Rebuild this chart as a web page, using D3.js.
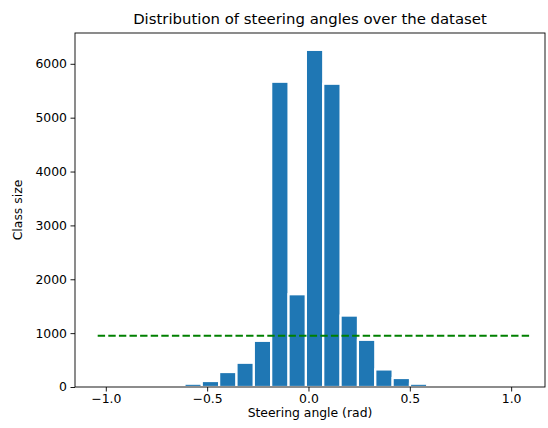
<!DOCTYPE html>
<html>
<head>
<meta charset="utf-8">
<script src="https://cdn.jsdelivr.net/npm/d3@7"></script>
<style>
  body { margin: 0; background: #fff; }
  svg text { font-family: "DejaVu Sans", sans-serif; fill: #000; }
</style>
</head>
<body>
<div id="chart"></div>
<script>
// histogram of steering angles: 25 equal bins between min and max angle
let angleMin = -1.04;
let angleMax = 1.10;
let counts = [1, 0, 0, 0, 0, 61, 111, 278, 450, 857, 5667, 1722, 6259, 5630, 1326,
              876, 326, 167, 61, 24, 0, 0, 0, 0, 1];
let xTicks = [-1.0, -0.5, 0.0, 0.5, 1.0];
let yTicks = [0, 1000, 2000, 3000, 4000, 5000, 6000];

let width = 548, height = 428;
let plot = { left: 75, right: 545, top: 33, bottom: 387 }; //px

let svg = d3.select("#chart")
    .append("svg")
    .attr("width", width)
    .attr("height", height);

let binWidth = (angleMax - angleMin) / counts.length;
let bins = counts.map((c, i) => ({
    x0: angleMin + i * binWidth,
    x1: angleMin + (i + 1) * binWidth,
    count: c
}));
let meanCount = d3.mean(counts);

// matplotlib style 5% margins
let xPad = (angleMax - angleMin) * 0.05;
let xScale = d3.scaleLinear()
    .domain([angleMin - xPad - 0.005, angleMax + xPad - 0.04])
    .range([plot.left, plot.right]);

let yScale = d3.scaleLinear()
    .domain([0, d3.max(counts) * 1.05])
    .range([plot.bottom, plot.top]);

// bars
svg.append("g")
    .selectAll("rect")
    .data(bins.filter(b => b.count > 0))
    .enter()
    .append("rect")
    .attr("x", d => xScale(d.x0))
    .attr("y", d => yScale(d.count))
    .attr("width", d => xScale(d.x1) - xScale(d.x0))
    .attr("height", d => yScale(0) - yScale(d.count))
    .attr("fill", "#1f77b4")
    .attr("stroke", "#fff")
    .attr("stroke-width", 2.2);

// mean line
svg.append("line")
    .attr("x1", xScale(angleMin))
    .attr("x2", xScale(angleMax))
    .attr("y1", yScale(meanCount))
    .attr("y2", yScale(meanCount))
    .attr("stroke", "#008000")
    .attr("stroke-width", 2)
    .attr("stroke-dasharray", "7.4,3.2");

/*---------------
 // axes
 ----------------*/
let xAxis = d3.axisBottom(xScale)
    .tickValues(xTicks)
    .tickFormat(d3.format(".1f"))
    .tickSize(4.5)
    .tickPadding(3);

let xg = svg.append("g")
    .attr("transform", "translate(0," + plot.bottom + ")")
    .call(xAxis);

let yAxis = d3.axisLeft(yScale)
    .tickValues(yTicks)
    .tickFormat(d3.format("d"))
    .tickSize(4.5)
    .tickPadding(3.5);

let yg = svg.append("g")
    .attr("transform", "translate(" + plot.left + ",0)")
    .call(yAxis);

[xg, yg].forEach(g => {
    g.select(".domain").remove();
    g.selectAll(".tick line").attr("stroke", "#000").attr("stroke-width", 0.9);
    g.selectAll(".tick text").style("font-size", "12.4px").attr("fill", "#000");
});
xg.selectAll(".tick text").text(d => d3.format(".1f")(d).replace("-", "\u2212"));

// frame
svg.append("rect")
    .attr("x", plot.left)
    .attr("y", plot.top)
    .attr("width", plot.right - plot.left)
    .attr("height", plot.bottom - plot.top)
    .attr("fill", "none")
    .attr("stroke", "#000")
    .attr("stroke-width", 0.9);

// labels
svg.append("text")
    .attr("x", (plot.left + plot.right) / 2)
    .attr("y", 24)
    .style("text-anchor", "middle")
    .style("font-size", "14.9px")
    .text("Distribution of steering angles over the dataset");

svg.append("text")
    .attr("x", (plot.left + plot.right) / 2)
    .attr("y", 417)
    .style("text-anchor", "middle")
    .style("font-size", "12.4px")
    .text("Steering angle (rad)");

let yLabel = { x: 22, y: (plot.top + plot.bottom) / 2 };
svg.append("text")
    .attr("x", yLabel.x)
    .attr("y", yLabel.y)
    .attr("transform", "rotate(-90," + yLabel.x + "," + yLabel.y + ")")
    .style("text-anchor", "middle")
    .style("font-size", "12.4px")
    .text("Class size");
</script>
</body>
</html>
